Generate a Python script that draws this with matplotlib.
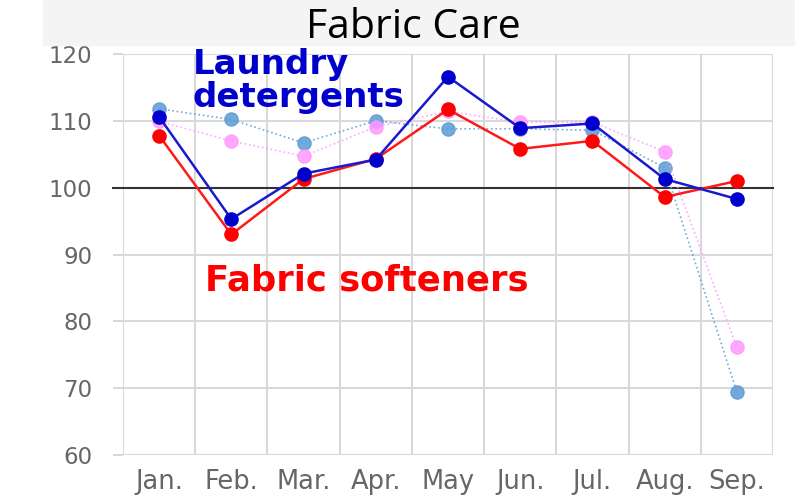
import matplotlib.pyplot as plt
from matplotlib.patches import Rectangle

months = ['Jan.', 'Feb.', 'Mar.', 'Apr.', 'May', 'Jun.', 'Jul.', 'Aug.', 'Sep.']
laundry = [110.6, 95.3, 102.1, 104.2, 116.6, 108.9, 109.6, 101.3, 98.3]
softeners = [107.8, 93.0, 101.3, 104.3, 111.7, 105.8, 107.0, 98.6, 101.0]
laundry_prev = [111.8, 110.2, 106.7, 110.0, 108.8, 108.8, 108.6, 103.0, 69.4]
softeners_prev = [109.9, 107.0, 104.7, 109.1, 111.4, 109.8, 109.8, 105.4, 76.1]
yticks = [60, 70, 80, 90, 100, 110, 120]

plt.rcParams['font.family'] = ['DejaVu Sans']

fig = plt.figure(figsize=(7.95, 4.98), dpi=100)
ax = fig.add_axes([0.1547, 0.0863, 0.8176, 0.8053])

x = list(range(len(months)))

# previous year lines (dotted, faint)
ax.plot(x, laundry_prev, ':', color='#5b9bd5', lw=1.2, alpha=0.85,
        marker='o', ms=9.5, mfc='#5b9bd5', mec='#5b9bd5', zorder=3)
ax.plot(x, softeners_prev, ':', color='#ff99ff', lw=1.2, alpha=0.85,
        marker='o', ms=9.5, mfc='#ff99ff', mec='#ff99ff', zorder=3)

# this year
ax.plot(x, laundry, '-', color='#1a1acc', lw=1.8, marker='o', ms=9.5,
        mfc='#0000cc', mec='#0000cc', zorder=5)
ax.plot(x, softeners, '-', color='#ff1a1a', lw=1.8, marker='o', ms=9.5,
        mfc='#ff0000', mec='#ff0000', zorder=4)

ax.axhline(100, color='#333333', lw=1.5, zorder=2, xmin=-0.015, clip_on=False)

ax.set_xlim(-0.5, len(months) - 0.5)
ax.set_ylim(60, 120)
ax.set_yticks(yticks)
ax.set_yticklabels([str(v) for v in yticks])
ax.set_xticks(x)
ax.set_xticklabels(months)
ax.set_xticks([i + 0.5 for i in range(-1, len(months))], minor=True)

ax.grid(True, which='minor', axis='x', color='#d9d9d9', lw=1.5)
ax.grid(True, which='major', axis='y', color='#d9d9d9', lw=1.5)
ax.tick_params(axis='x', which='both', length=0, pad=10, labelsize=18.5, labelcolor='#666666')
ax.tick_params(axis='y', length=7, width=1.5, color='#d9d9d9', pad=15,
               labelsize=16.5, labelcolor='#666666')
for s in ax.spines.values():
    s.set_visible(False)
ax.set_axisbelow(True)

# title band
fig.patches.append(Rectangle((43 / 795, 1 - 45 / 498), 1 - 43 / 795, 45 / 498,
                             transform=fig.transFigure, color='#f4f4f4', zorder=0))
fig.text(0.52, 0.944, 'Fabric Care', ha='center', va='center', fontsize=29.5,
         family=['Open Sans', 'DejaVu Sans'], color='black')

ax.text(0.107, 1.015, 'Laundry\ndetergents', transform=ax.transAxes, ha='left', va='top',
        fontsize=24.5, color='#0000cc', linespacing=1.0, fontweight='bold')
ax.text(0.126, 0.436, 'Fabric softeners', transform=ax.transAxes, ha='left', va='center',
        fontsize=25.5, color='#ff0000', fontweight='bold')

fig.savefig('out.png', dpi=100)
